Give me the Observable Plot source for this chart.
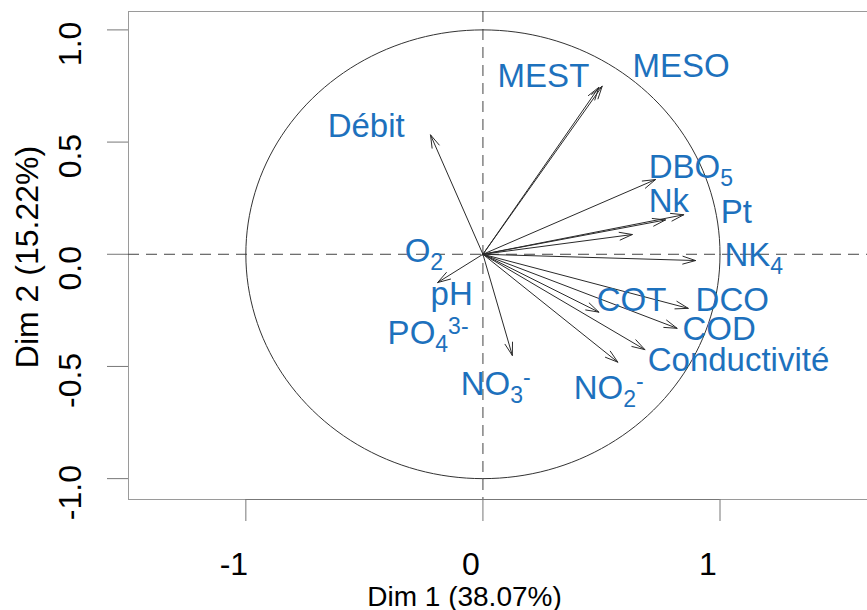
<!DOCTYPE html>
<html><head><meta charset="utf-8">
<script src="https://cdn.jsdelivr.net/npm/d3@7"></script>
<script src="https://cdn.jsdelivr.net/npm/@observablehq/plot@0.6"></script>
<style>html,body{margin:0;padding:0;overflow:hidden;background:#fff}svg{max-width:none!important}</style>
</head><body><div id="chart"></div>
<script>
// Variable arrows (coordinates on Dim 1 / Dim 2)
const arrowNames = ["Débit","MEST","MESO","DBO5","Nk","Pt","(var)","NK4","COT","DCO","COD","Conductivité","NO2-","NO3-","pH"];
const arrowDim1  = [-0.221, 0.489, 0.503, 0.728, 0.847, 0.770, 0.630, 0.897, 0.489, 0.866, 0.819, 0.683, 0.569, 0.124, -0.191];
const arrowDim2  = [ 0.532, 0.744, 0.749, 0.333, 0.176, 0.153, 0.088, -0.028, -0.258, -0.241, -0.330, -0.425, -0.481, -0.451, -0.126];

// Variable labels (placed positions)
const labelMain = ["MEST","MESO","Débit","DBO","Nk","Pt","NK","O","pH","PO","NO","NO","COT","DCO","COD","Conductivité"];
const labelSub  = ["","","","5","","","4","2","","4","3","2","","","",""];
const labelSup  = ["","","","","","","","","","3-","-","-","","","",""];
const labelDim1 = [0.062, 0.631, -0.655, 0.699, 0.699, 1.003, 1.019, -0.330, -0.221, -0.402, -0.094, 0.383, 0.480, 0.897, 0.842, 0.695];
const labelDim2 = [0.791, 0.835, 0.569, 0.386, 0.234, 0.185, -0.003, 0.012, -0.177, -0.351, -0.578, -0.597, -0.208, -0.208, -0.337, -0.474];

const xTicks = [-1, 0, 1];
const yTicks = [-1, -0.5, 0, 0.5, 1];
const xTitle = "Dim 1 (38.07%)";
const yTitle = "Dim 2 (15.22%)";

const arrows = arrowNames.map((n, i) => ({name: n, d1: arrowDim1[i], d2: arrowDim2[i]}));
const labels = labelMain.map((m, i) => ({main: m, sub: labelSub[i], sup: labelSup[i], x: labelDim1[i], y: labelDim2[i]}));
// unit correlation circle (geometric reference)
const circle = d3.range(0, 361, 2).map(a => ({x: Math.cos(a * Math.PI / 180), y: Math.sin(a * Math.PI / 180)}));

const blue = "#1d71bd";
const xDomain = [-1.495, 1.677];
const yDomain = [-1.093, 1.082];

const svg = Plot.plot({
  width: 880, height: 610,
  marginLeft: 128, marginRight: 0, marginTop: 11, marginBottom: 111,
  x: {domain: xDomain},
  y: {domain: yDomain},
  style: {fontFamily: "'Liberation Sans', Arial, sans-serif", background: "white", overflow: "visible", maxWidth: "none"},
  marks: [
    Plot.frame({stroke: "#9a9a9a"}),
    Plot.ruleY([yDomain[0]], {x1: xTicks[0], x2: xTicks[xTicks.length - 1], stroke: "#777"}),
    Plot.axisX(xTicks, {tickSize: 22, fill: "none", stroke: "#777", label: null}),
    Plot.axisY(yTicks, {tickSize: 21, fill: "none", stroke: "#777", label: null}),
    Plot.text(xTicks, {x: d => d, text: d => String(d), frameAnchor: "bottom", lineAnchor: "top", dy: 53, dx: -12, fontSize: 32, fill: "black"}),
    Plot.text(yTicks, {y: d => d, text: d => d.toFixed(1), frameAnchor: "left", rotate: -90, textAnchor: "middle", lineAnchor: "bottom", dx: -48, dy: 14, fontSize: 32, fill: "black"}),
    Plot.text([xTitle], {text: d => d, frameAnchor: "bottom", lineAnchor: "bottom", dy: 106, dx: -40, fontSize: 28, fill: "black"}),
    Plot.text([yTitle], {text: d => d, frameAnchor: "left", rotate: -90, textAnchor: "middle", lineAnchor: "bottom", dx: -91, dy: 1.5, fontSize: 32, fill: "black"}),
    Plot.ruleY([0], {stroke: "#444", strokeDasharray: "11,7"}),
    Plot.ruleX([0], {stroke: "#444", strokeDasharray: "11,7"}),
    Plot.line(circle, {x: "x", y: "y", stroke: "#333", strokeWidth: 1}),
    Plot.arrow(arrows, {x1: 0, y1: 0, x2: "d1", y2: "d2", headLength: 20, headAngle: 34, stroke: "#2a2a2a", strokeWidth: 1}),
    Plot.text(labels, {x: "x", y: "y", text: "main", textAnchor: "start", lineAnchor: "middle", fontSize: 33, fill: blue, ariaDescription: "var-label"})
  ]
});

// add subscripts / superscripts to the variable labels
svg.querySelectorAll('[aria-description="var-label"] text').forEach((t, i) => {
  const d = labels[i];
  if (!d) return;
  const ns = "http://www.w3.org/2000/svg";
  if (d.sub) {
    const s = document.createElementNS(ns, "tspan");
    s.setAttribute("dy", "8"); s.setAttribute("font-size", "23");
    s.textContent = d.sub; t.appendChild(s);
  }
  if (d.sup) {
    const s = document.createElementNS(ns, "tspan");
    s.setAttribute("dy", d.sub ? "-18" : "-10"); s.setAttribute("font-size", "23");
    s.textContent = d.sup; t.appendChild(s);
  }
});

document.getElementById("chart").appendChild(svg);
</script>
</body></html>
